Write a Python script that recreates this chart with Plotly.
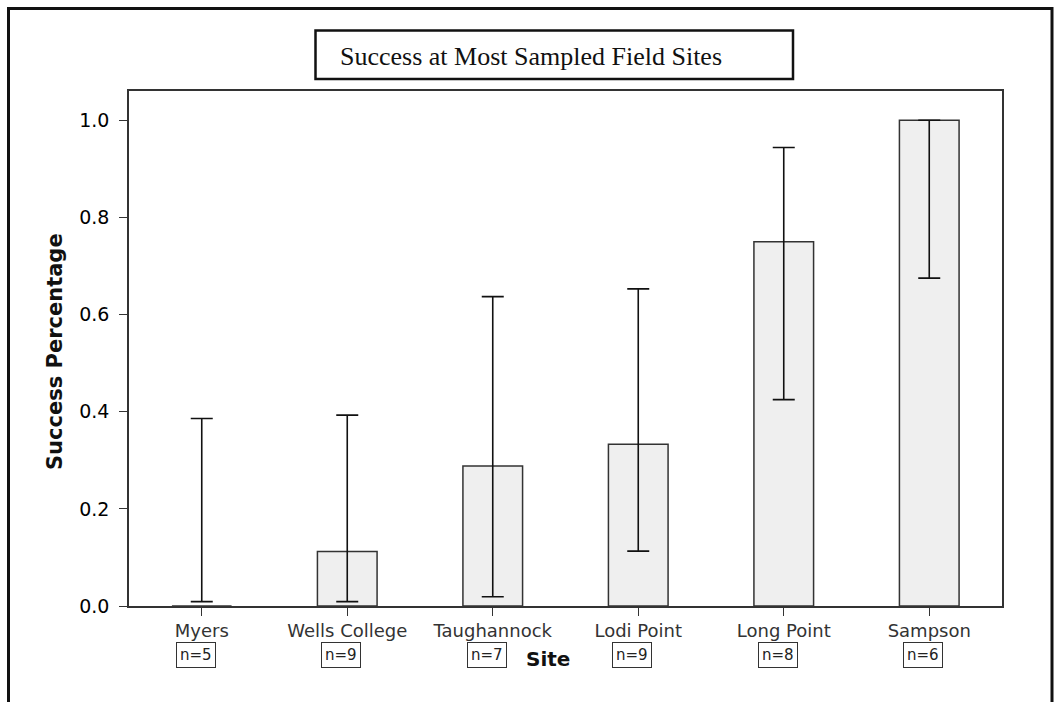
import plotly.graph_objects as go

sites = ["Myers", "Wells College", "Taughannock", "Lodi Point", "Long Point", "Sampson"]
n_labels = ["n=5", "n=9", "n=7", "n=9", "n=8", "n=6"]
success = [0.0, 0.112, 0.288, 0.333, 0.75, 1.0]
ci_upper = [0.386, 0.393, 0.637, 0.653, 0.944, 1.0]
ci_lower = [0.009, 0.009, 0.019, 0.113, 0.425, 0.675]
y_ticks = [0.0, 0.2, 0.4, 0.6, 0.8, 1.0]

err_plus = [u - s for u, s in zip(ci_upper, success)]
err_minus = [s - l for s, l in zip(success, ci_lower)]

W, H = 1056, 702
L, R, T, B = 129, 54, 91, 96
pw, ph = W - L - R, H - T - B


def px(xp):
    return (xp - L) / pw


def py(yp):
    return (H - B - yp) / ph


fig = go.Figure()
fig.add_trace(go.Bar(
    x=sites, y=success, width=0.41,
    marker=dict(color="#efefef", line=dict(color="#333333", width=1.5)),
    error_y=dict(type="data", symmetric=False, array=err_plus, arrayminus=err_minus,
                 color="#111111", thickness=1.6, width=11),
    showlegend=False, hoverinfo="x+y",
))

annotations = []
for s, n in zip(sites, n_labels):
    annotations.append(dict(
        x=s, xref="x", y=py(654.5), yref="paper", text=n, showarrow=False,
        xanchor="center", yanchor="middle", xshift=-6,
        font=dict(family="DejaVu Sans", size=15, color="#222222"),
        bordercolor="#333333", borderwidth=1, borderpad=3, bgcolor="white",
    ))
annotations.append(dict(
    x=px(548), xref="paper", y=py(659), yref="paper", text="<b>Site</b>", showarrow=False,
    xanchor="center", yanchor="middle",
    font=dict(family="DejaVu Sans", size=20, color="#111111"),
))
annotations.append(dict(
    x=px(55), xref="paper", y=py(352), yref="paper", text="<b>Success Percentage</b>",
    showarrow=False, textangle=-90, xanchor="center", yanchor="middle",
    font=dict(family="DejaVu Sans", size=21, color="#111111"),
))

shapes = [
    # outer frame
    dict(type="rect", xref="paper", yref="paper",
         x0=px(8.5), x1=px(1052), y0=py(730), y1=py(8.5),
         line=dict(color="#111111", width=3), fillcolor="rgba(0,0,0,0)", layer="below"),
    # title box
    dict(type="rect", xref="paper", yref="paper",
         x0=px(315.5), x1=px(793), y0=py(79), y1=py(30.5),
         line=dict(color="#111111", width=2.5), fillcolor="rgba(0,0,0,0)"),
]

fig.update_layout(
    width=W, height=H,
    margin=dict(l=L, r=R, t=T, b=B, pad=0),
    paper_bgcolor="white", plot_bgcolor="white",
    title=dict(text="Success at Most Sampled Field Sites", xref="container", yref="container",
               x=531 / W, y=1 - 56 / H, xanchor="center", yanchor="middle",
               font=dict(family="Liberation Serif", size=26, color="#111111")),
    xaxis=dict(
        range=[-0.5, 5.5], showline=True, mirror=True, linecolor="#333333", linewidth=1.5,
        ticks="outside", ticklen=8, tickcolor="#333333", tickwidth=1.2,
        showgrid=False, zeroline=False,
        tickfont=dict(family="DejaVu Sans", size=18, color="#333333"),
    ),
    yaxis=dict(
        range=[0, ph / 485.7], showline=True, mirror=True, linecolor="#333333", linewidth=1.5,
        ticks="outside", ticklen=8, tickcolor="#333333", tickwidth=1.2,
        tickvals=y_ticks, ticktext=[f"{v:.1f}" for v in y_ticks],
        showgrid=False, zeroline=False, ticklabelstandoff=6,
        tickfont=dict(family="DejaVu Sans", size=19, color="#000000"),
    ),
    annotations=annotations,
    shapes=shapes,
    bargap=0.59,
)

fig.write_html("out.html")
